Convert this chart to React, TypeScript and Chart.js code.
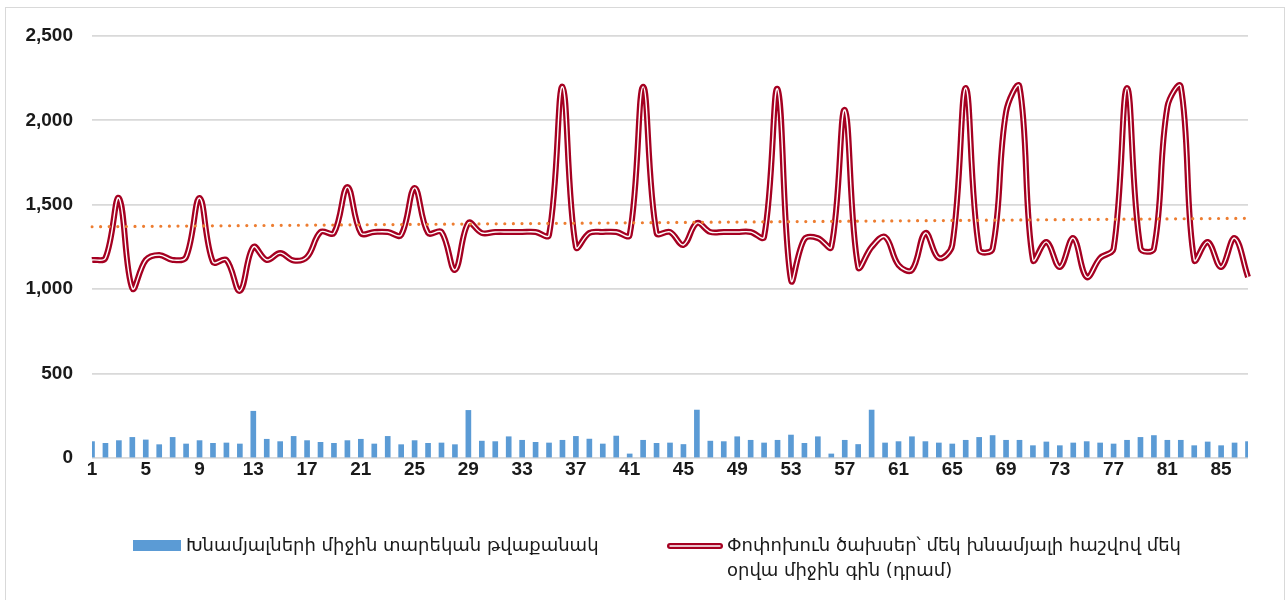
import React, { useEffect, useRef } from "react";
import { Chart, registerables } from "chart.js";

Chart.register(...registerables);

// ---------- data ----------
const categories = [
  "1", "2", "3", "4", "5", "6", "7", "8", "9", "10",
  "11", "12", "13", "14", "15", "16", "17", "18", "19", "20",
  "21", "22", "23", "24", "25", "26", "27", "28", "29", "30",
  "31", "32", "33", "34", "35", "36", "37", "38", "39", "40",
  "41", "42", "43", "44", "45", "46", "47", "48", "49", "50",
  "51", "52", "53", "54", "55", "56", "57", "58", "59", "60",
  "61", "62", "63", "64", "65", "66", "67", "68", "69", "70",
  "71", "72", "73", "74", "75", "76", "77", "78", "79", "80",
  "81", "82", "83", "84", "85", "86", "87",
];

const avgResidents = [
  97, 87, 103, 122, 107, 79, 122, 83, 103, 87,
  89, 83, 277, 111, 97, 128, 103, 93, 87, 103,
  111, 83, 128, 79, 103, 87, 89, 79, 282, 100,
  97, 126, 105, 93, 89, 105, 128, 112, 83, 130,
  24, 105, 87, 89, 80, 284, 100, 97, 126, 105,
  89, 105, 136, 87, 126, 24, 105, 80, 284, 89,
  97, 126, 97, 89, 83, 105, 122, 133, 105, 105,
  73, 95, 73, 89, 97, 89, 83, 105, 122, 133,
  105, 105, 73, 95, 73, 89, 97,
];

const dailyCost = [
  1173, 1185, 1540, 1005, 1173, 1203, 1173, 1191, 1540, 1161,
  1173, 990, 1250, 1173, 1214, 1170, 1191, 1339, 1333, 1605,
  1333, 1339, 1339, 1321, 1600, 1333, 1339, 1114, 1392, 1333,
  1339, 1339, 1339, 1339, 1321, 2200, 1250, 1333, 1339, 1339,
  1321, 2200, 1333, 1339, 1262, 1392, 1339, 1339, 1339, 1339,
  1310, 2186, 1054, 1297, 1303, 1250, 2062, 1131, 1250, 1310,
  1143, 1114, 1333, 1185, 1262, 2192, 1235, 1240, 2050, 2200,
  1173, 1280, 1131, 1303, 1072, 1185, 1240, 2192, 1244, 1240,
  2080, 2200, 1173, 1280, 1131, 1303, 1072,
];

// linear trendline end points (as drawn in the reference)
const trendStart = 1370;
const trendEnd = 1420;

const yMin = 0;
const yMax = 2500;
const yStep = 500;

const barLabel = "Խնամյալների միջին տարեկան թվաքանակ";
const lineLabelLines = [
  "Փոփոխուն ծախսեր՝ մեկ խնամյալի հաշվով մեկ",
  "օրվա միջին գին (դրամ)",
];

// ---------- styles ----------
const FONT = "'DejaVu Sans', sans-serif";
const TICK_FONT = "'Liberation Sans', Arial, sans-serif";
const BLUE = "#5B9BD5";
const RED = "#A50021";
const ORANGE = "#ED7D31";
const GRID = "#D9D9D9";
const TEXT = "#1A1A1A";

export default function App() {
  const canvasRef = useRef<HTMLCanvasElement | null>(null);

  useEffect(() => {
    const canvas = canvasRef.current;
    if (!canvas) return;
    const last = categories.length - 1;
    const trendData = categories.map((_, i) =>
      i === 0 ? trendStart : i === last ? trendEnd : null
    );

    const legendPlugin = {
      id: "customLegend",
      afterDraw(chart: any) {
        const ctx = chart.ctx as CanvasRenderingContext2D;
        ctx.save();
        ctx.font = `18px ${FONT}`;
        ctx.textBaseline = "middle";
        ctx.textAlign = "left";
        const y1 = 546;
        const y2 = 571;
        // bar item
        ctx.fillStyle = BLUE;
        ctx.fillRect(133, 540, 48, 11);
        ctx.fillStyle = TEXT;
        ctx.fillText(barLabel, 186, y1);
        // line item (double line)
        ctx.lineCap = "round";
        ctx.strokeStyle = RED;
        ctx.lineWidth = 6;
        ctx.beginPath();
        ctx.moveTo(670, y1);
        ctx.lineTo(720, y1);
        ctx.stroke();
        ctx.strokeStyle = "#FFFFFF";
        ctx.lineWidth = 1.4;
        ctx.beginPath();
        ctx.moveTo(670, y1);
        ctx.lineTo(720, y1);
        ctx.stroke();
        ctx.fillStyle = TEXT;
        ctx.fillText(lineLabelLines[0], 727, y1);
        ctx.fillText(lineLabelLines[1], 727, y2);
        ctx.restore();
      },
    };

    const chart = new Chart(canvas, {
      type: "bar",
      data: {
        labels: categories,
        datasets: [
          {
            type: "line",
            label: "Trend",
            data: trendData,
            borderColor: ORANGE,
            borderWidth: 3.2,
            borderDash: [0, 8.6],
            borderCapStyle: "round",
            pointRadius: 0,
            spanGaps: true,
            fill: false,
            order: 0,
          },
          {
            type: "line",
            label: "inner",
            data: dailyCost,
            borderColor: "#FFFFFF",
            borderWidth: 1.4,
            pointRadius: 0,
            tension: 0.38,
            fill: false,
            order: 1,
          },
          {
            type: "line",
            label: lineLabelLines.join(" "),
            data: dailyCost,
            borderColor: RED,
            borderWidth: 6,
            pointRadius: 0,
            tension: 0.38,
            fill: false,
            order: 2,
          },
          {
            type: "bar",
            label: barLabel,
            data: avgResidents,
            backgroundColor: BLUE,
            barThickness: 5,
            order: 3,
          },
        ],
      },
      options: {
        responsive: false,
        animation: false,
        devicePixelRatio: 1,
        layout: { padding: { left: 0, right: 40, top: 36, bottom: 0 } },
        plugins: {
          legend: { display: false },
          tooltip: { enabled: false },
          title: { display: false },
        },
        scales: {
          x: {
            offset: false,
            grid: { display: false, drawTicks: false },
            border: { display: false },
            ticks: {
              autoSkip: false,
              maxRotation: 0,
              minRotation: 0,
              padding: 0,
              color: TEXT,
              font: { family: TICK_FONT, size: 19, weight: "bold" },
              callback: (_v: any, i: number) =>
                i % 4 === 0 ? categories[i] : null,
            },
            afterFit: (scale: any) => {
              scale.height = 142;
            },
          },
          y: {
            min: yMin,
            max: yMax,
            grid: { color: GRID, lineWidth: 1.8, drawTicks: false },
            border: { display: false },
            ticks: {
              stepSize: yStep,
              padding: 19,
              color: TEXT,
              font: { family: TICK_FONT, size: 19, weight: "bold" },
              callback: (v: any) => Number(v).toLocaleString("en-US"),
            },
            afterFit: (scale: any) => {
              scale.width = 92;
            },
          },
        },
      },
      plugins: [legendPlugin],
    });

    return () => chart.destroy();
  }, []);

  return (
    <div
      style={{
        position: "fixed",
        left: 0,
        top: 0,
        width: 1288,
        height: 600,
        overflow: "hidden",
        background: "#FFFFFF",
      }}
    >
      <div
        style={{
          position: "absolute",
          left: 5,
          top: 7,
          width: 1280,
          height: 620,
          border: `1.5px solid ${GRID}`,
          boxSizing: "border-box",
        }}
      />
      <canvas
        ref={canvasRef}
        width={1288}
        height={600}
        style={{ position: "absolute", left: 0, top: 0 }}
      />
    </div>
  );
}
